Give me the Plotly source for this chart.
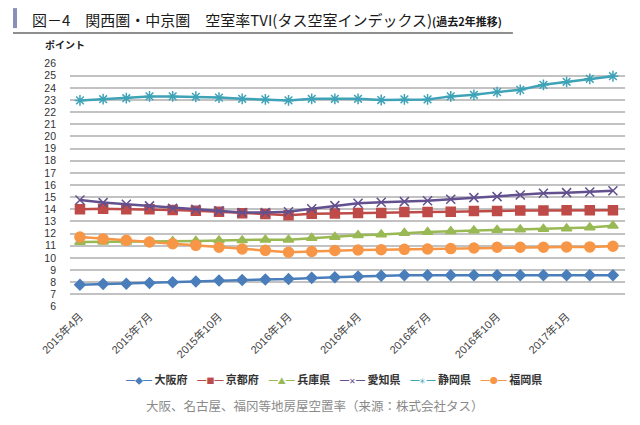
import plotly.graph_objects as go

months = list(range(24))
tick_idx = [0, 3, 6, 9, 12, 15, 18, 21]
tick_labels = ["2015年4月", "2015年7月", "2015年10月", "2016年1月",
               "2016年4月", "2016年7月", "2016年10月", "2017年1月"]

osaka = [7.78, 7.84, 7.87, 7.92, 7.98, 8.06, 8.14, 8.17, 8.22, 8.25, 8.35, 8.41,
         8.46, 8.52, 8.57, 8.57, 8.57, 8.57, 8.57, 8.57, 8.57, 8.57, 8.57, 8.57]
kyoto = [14.0, 14.05, 14.0, 14.0, 13.95, 13.87, 13.8, 13.68, 13.62, 13.5, 13.64, 13.66,
         13.7, 13.7, 13.77, 13.77, 13.8, 13.85, 13.85, 13.9, 13.9, 13.93, 13.93, 13.93]
hyogo = [11.3, 11.33, 11.33, 11.33, 11.36, 11.38, 11.44, 11.44, 11.5, 11.5, 11.63, 11.71,
         11.87, 11.92, 12.04, 12.12, 12.2, 12.25, 12.3, 12.33, 12.38, 12.42, 12.5, 12.64]
aichi = [14.77, 14.55, 14.42, 14.28, 14.09, 14.0, 13.87, 13.73, 13.73, 13.8, 14.05, 14.3,
         14.5, 14.58, 14.63, 14.71, 14.82, 14.96, 15.04, 15.18, 15.32, 15.37, 15.43, 15.53]
shizuoka = [22.97, 23.07, 23.15, 23.3, 23.3, 23.27, 23.2, 23.1, 23.05, 22.97, 23.1, 23.1,
            23.1, 23.0, 23.05, 23.05, 23.3, 23.43, 23.65, 23.84, 24.25, 24.5, 24.75, 24.96]
fukuoka = [11.71, 11.55, 11.44, 11.3, 11.17, 11.03, 10.87, 10.73, 10.62, 10.46, 10.52, 10.6,
           10.65, 10.67, 10.7, 10.73, 10.76, 10.81, 10.87, 10.87, 10.87, 10.9, 10.9, 10.95]

series = [
    ("大阪府", osaka, "#4a7ebb", "diamond", 8, "◆"),
    ("京都府", kyoto, "#be4b48", "square", 9, "■"),
    ("兵庫県", hyogo, "#98b954", "triangle-up", 9, "▲"),
    ("愛知県", aichi, "#62508f", "x-thin-open", 9, "✕"),
    ("静岡県", shizuoka, "#3fa3b8", "asterisk-open", 9, "✳"),
    ("福岡県", fukuoka, "#f79646", "circle", 10, "●"),
]

fig = go.Figure()
for name, vals, color, sym, size, glyph in series:
    fig.add_trace(go.Scatter(
        x=months, y=vals, name=name, mode="lines+markers", showlegend=False,
        line=dict(color=color, width=2.5),
        marker=dict(symbol=sym, size=size, color=color,
                    line=dict(color=color, width=1.5)),
    ))

font_family = "Noto Sans CJK JP, Noto Sans, sans-serif"
tick_family = "Liberation Sans, Noto Sans CJK JP, sans-serif"

# The page body has an 8px default margin, so the figure is 8px smaller
fig.update_layout(
    width=632, height=417,
    margin=dict(l=62, r=15, t=55, b=118),
    paper_bgcolor="white", plot_bgcolor="white",
    font=dict(family=font_family, size=11, color="#333333"),
    showlegend=False,
    xaxis=dict(range=[-0.43, 23.52], tickmode="array", tickvals=tick_idx,
               ticktext=tick_labels, tickangle=-45, showgrid=False, zeroline=False,
               showline=False, ticks="", automargin=False,
               tickfont=dict(size=11, color="#444444", family=tick_family)),
    yaxis=dict(range=[5.95, 26.05], dtick=1, tick0=6, showgrid=True,
               gridcolor="#c2c2c2", gridwidth=1.5, zeroline=False, showline=False,
               ticks="", automargin=False, ticklabelstandoff=13,
               tickfont=dict(size=10.5, color="#333333", family=tick_family)),
)

# Title bar and underline
fig.add_shape(type="rect", xref="paper", yref="paper", x0=-0.1027, x1=-0.0955,
              y0=1.143, y1=1.225, fillcolor="#8a8fb8", line=dict(width=0),
              layer="above")
fig.add_shape(type="line", xref="paper", yref="paper", x0=-0.1027, x1=0.798,
              y0=1.123, y1=1.123, line=dict(color="#6a6a6a", width=1.3))

fig.add_annotation(xref="paper", yref="paper", x=-0.072, y=1.180, xanchor="left",
                   yanchor="middle", showarrow=False,
                   text="図－4　関西圏・中京圏　空室率TVI(タス空室インデックス)"
                        "<span style='font-size:11px'><b>(過去2年推移)</b></span>",
                   font=dict(size=15, color="#1a1a1a", family=font_family))
fig.add_annotation(xref="paper", yref="paper", x=-0.0486, y=1.074, xanchor="left",
                   yanchor="middle", showarrow=False, text="<b>ポイント</b>",
                   font=dict(size=10, color="#222222", family=font_family))

# Legend row built from the series names and colours
legend_parts = []
for name, vals, color, sym, size, glyph in series:
    legend_parts.append(
        f"<span style='color:{color}'><span style='font-size:9px'>━</span>"
        f"<span style='font-size:8px'>{glyph}</span>"
        f"<span style='font-size:9px'>━</span></span> <b>{name}</b>")
fig.add_annotation(xref="paper", yref="paper", x=0.476, y=-0.295, xanchor="center",
                   yanchor="middle", showarrow=False,
                   text="    ".join(legend_parts),
                   font=dict(size=11, color="#333333", family=font_family))

fig.add_annotation(xref="paper", yref="paper", x=0.441, y=-0.402, xanchor="center",
                   yanchor="middle", showarrow=False,
                   text="大阪、名古屋、福冈等地房屋空置率（来源：株式会社タス）",
                   font=dict(size=12.5, color="#8a8a8a", family=font_family))

fig.write_html("out.html")
